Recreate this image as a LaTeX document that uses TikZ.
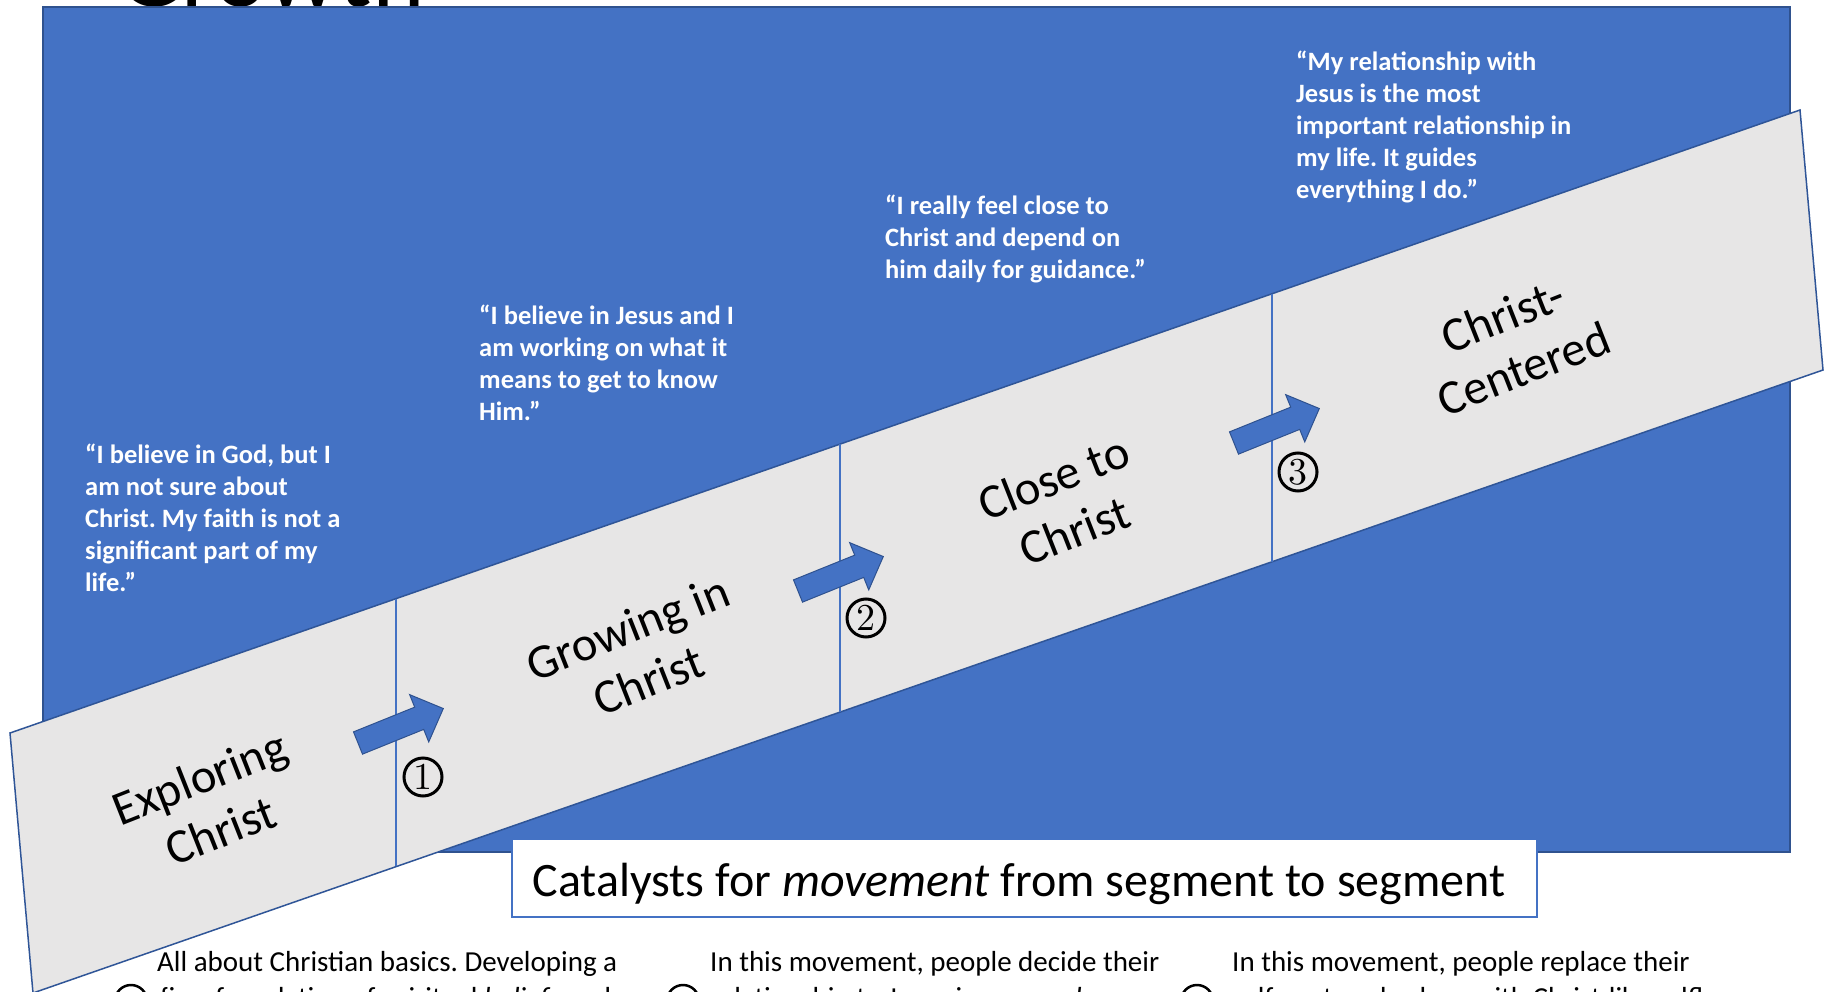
\documentclass[tikz,border=0pt]{standalone}
\usepackage{fontspec}
\setmainfont{Carlito}
\newfontfamily\numfont{lmroman10-regular.otf}
\usepackage{tikz}
\usetikzlibrary{positioning,calc}
\definecolor{slideblue}{HTML}{4472C4}
\definecolor{slidedark}{HTML}{2F528F}
\definecolor{stripegray}{HTML}{E7E6E6}
\definecolor{stripeline}{HTML}{2F5597}
\frenchspacing

\begin{document}
\begin{tikzpicture}[x=1pt, y=-1pt,
    stage/.style={rotate=21.5, align=center, inner sep=0, font=\fontsize{48.5}{57}\selectfont},
    quote/.style={anchor=north west, align=left, inner sep=0, text=white, font=\bfseries\fontsize{26.5}{32}\selectfont},
    movenum/.style={circle, draw, line width=3pt, minimum size=38pt, inner sep=0, font=\numfont\fontsize{38}{38}\selectfont},
    smallnum/.style={circle, draw, line width=2.5pt, minimum size=32pt, inner sep=0},
    bodytext/.style={anchor=base west, inner sep=0, font=\fontsize{29}{35}\selectfont},
    movearrow/.style={fill=slideblue, draw=slidedark, line width=1pt}
]
\useasboundingbox (0,0) rectangle (1833,992);
\clip (0,0) rectangle (1833,992);

% TITLE (cut at the top)
\node[anchor=base west, inner sep=0, font=\fontsize{100}{100}\selectfont] (title) at (118,7) {Growth};

% BACKGROUND
\draw[fill=slideblue, draw=slidedark, line width=1.5pt] (43,7) rectangle (1790,852);

% QUOTES
\node[quote] (q1) at (85,444) {``I believe in God, but I\\am not sure about\\Christ. My faith is not a\\significant part of my\\life.''};
\node[quote] (q2) at (479,305) {``I believe in Jesus and I\\am working on what it\\means to get to know\\Him.''};
\node[quote] (q3) at (885,195) {``I really feel close to\\Christ and depend on\\him daily for guidance.''};
\node[quote] (q4) at (1296,51) {``My relationship with\\Jesus is the most\\important relationship in\\my life. It guides\\everything I do.''};

% STRIPE
\draw[fill=stripegray, draw=stripeline, line width=1.5pt] (10,733) -- (1800,110) -- (1823,370) -- (33,993) -- cycle;
\foreach \x/\yt/\yb in {396/599/866, 840/444/712, 1272/294/562}
    \draw[slideblue, line width=1.8pt] (\x,\yt) -- (\x,\yb);

\node[stage] (explore) at (210,804) {Exploring\\Christ};
\node[stage] (growing) at (638,654) {Growing in\\Christ};
\node[stage] (close) at (1064,504) {Close to\\Christ};
\node[stage] (centered) at (1513,342) {Christ-\\Centered};

% MOVEMENT ARROWS
\foreach \x/\y in {358/743, 798/591, 1234/443}{
    \begin{scope}[shift={(\x,\y)}, rotate=22]
    \draw[movearrow] (0,-12) -- (66,-12) -- (66,-25.5) -- (92,0) -- (66,25.5) -- (66,12) -- (0,12) -- cycle;
    \end{scope}
}
\node[movenum] (m1) at (423,777) {1};
\node[movenum] (m2) at (866,618) {2};
\node[movenum] (m3) at (1298,472) {3};

% CATALYSTS
\node[draw=slideblue, line width=2pt, fill=white, minimum width=1025pt, minimum height=78pt, inner sep=0] (cat) at (1024.5,878) {};
\node[anchor=base, inner sep=0, font=\fontsize{48}{57}\selectfont] (cattext) at (1019,896) {Catalysts for \textit{movement} from segment to segment};

\node[bodytext] (b1) at (157,971) {All about Christian basics. Developing a};
\node[bodytext] (b1b) at (160,1007) {firm foundation of spiritual \textit{beliefs} and};
\node[smallnum] (n1) at (131,1001) {};
\node[bodytext] (b2) at (710,971) {In this movement, people decide their};
\node[bodytext] (b2b) at (710,1007) {relationship to Jesus is \textit{personal}};
\node[smallnum] (n2) at (683,1001) {};
\node[bodytext] (b3) at (1232,971) {In this movement, people replace their};
\node[bodytext] (b3b) at (1232,1007) {self-centered values with Christ-like selfless};
\node[smallnum] (n3) at (1197,1001) {};
\end{tikzpicture}
\end{document}
